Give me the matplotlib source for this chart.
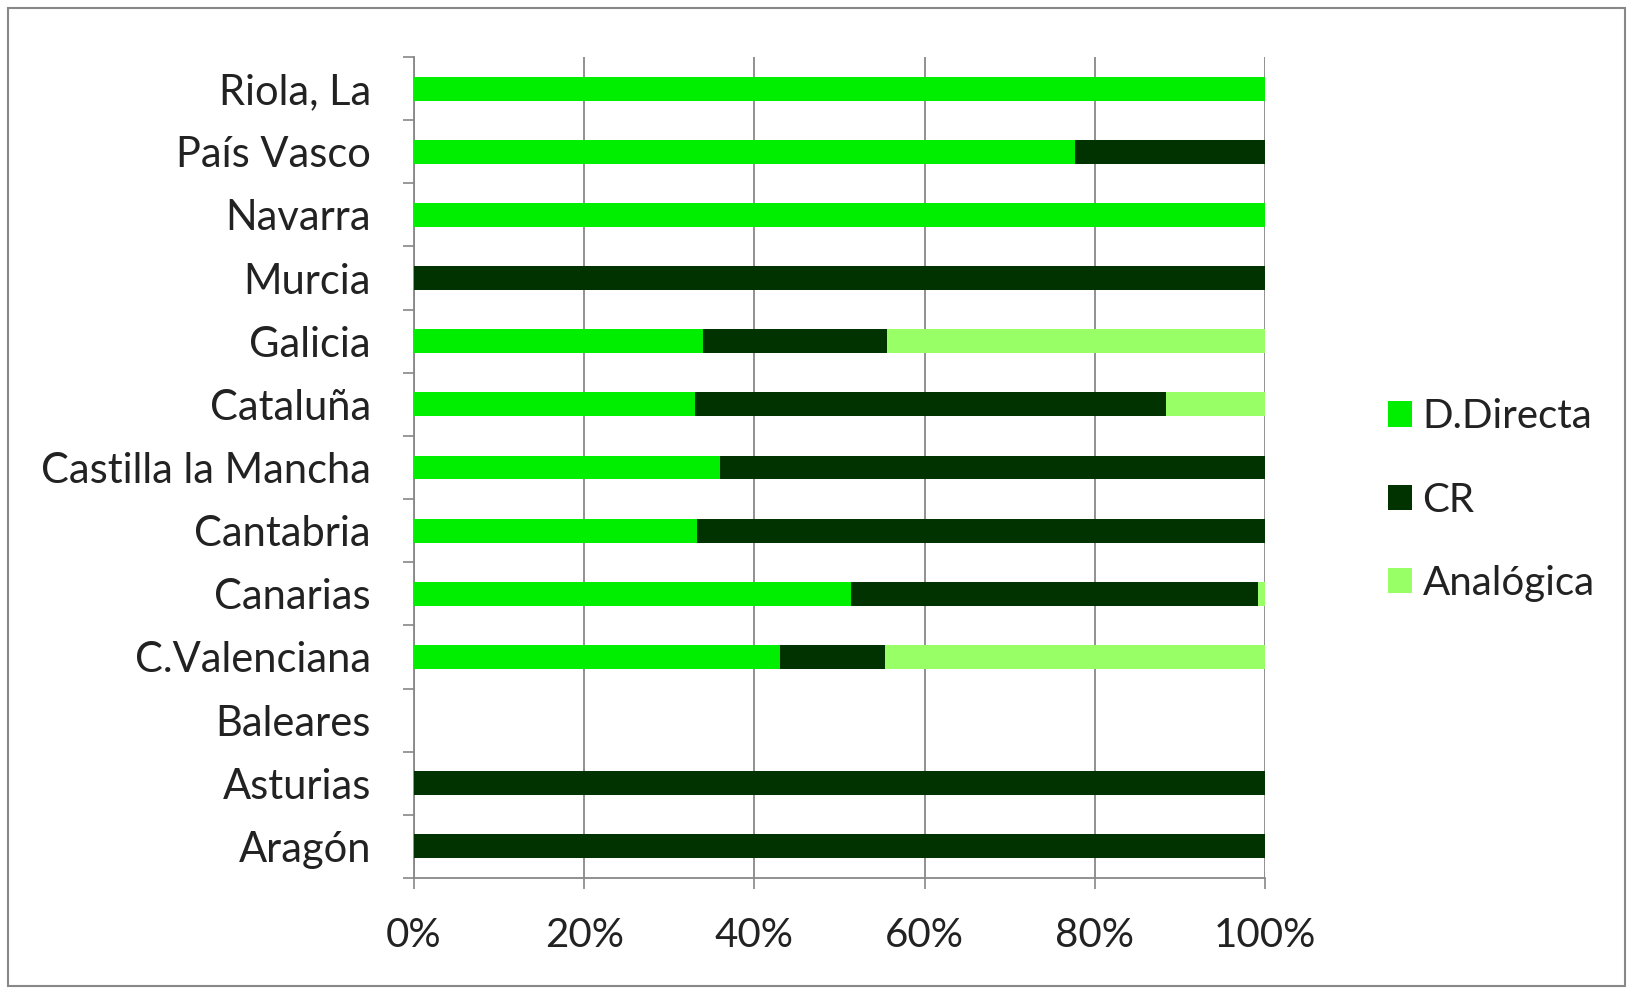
import matplotlib
matplotlib.use("Agg")
import matplotlib.pyplot as plt
from matplotlib.ticker import FixedLocator, PercentFormatter
import numpy as np

categories = ["Aragón", "Asturias", "Baleares", "C.Valenciana", "Canarias",
              "Cantabria", "Castilla la Mancha", "Cataluña", "Galicia",
              "Murcia", "Navarra", "País Vasco", "Riola, La"]
d_directa = [0, 0, 0, 43.0, 51.4, 33.3, 35.9, 33.0, 34.0, 0, 100, 77.7, 100]
cr        = [100, 100, 0, 12.3, 47.8, 66.7, 64.1, 55.4, 21.6, 100, 0, 22.3, 0]
analogica = [0, 0, 0, 44.7, 0.8, 0, 0, 11.6, 44.4, 0, 0, 0, 0]
series_names = ["D.Directa", "CR", "Analógica"]
xticks = [0, 20, 40, 60, 80, 100]

colors = ["#00EE00", "#003300", "#99FF66"]

plt.rcParams['font.family'] = ['Lato', 'DejaVu Sans']

fig = plt.figure(figsize=(16.33, 9.94), dpi=100)
W, H = 1633, 994
ax = fig.add_axes([414 / W, 1 - 878 / H, (1265 - 414) / W, (878 - 57) / H])

y = np.arange(len(categories))
left = np.zeros(len(categories))
handles = []
for vals, name, c in zip([d_directa, cr, analogica], series_names, colors):
    v = np.array(vals, dtype=float)
    h = ax.barh(y, v, left=left, height=0.38, color=c, label=name, zorder=3)
    handles.append(h)
    left += v

ax.set_xlim(0, 100)
ax.set_ylim(-0.5, len(categories) - 0.5)
ax.xaxis.set_major_locator(FixedLocator(xticks))
ax.xaxis.set_major_formatter(PercentFormatter(decimals=0))
ax.set_yticks(y)
ax.set_yticklabels(categories)
ax.set_yticks(np.arange(-0.5, len(categories), 1.0), minor=True)
ax.tick_params(axis='y', which='major', length=0, pad=31, labelsize=30, labelcolor="#222222")
ax.tick_params(axis='y', which='minor', length=8, width=1.2, color="#888888", direction='out')
ax.tick_params(axis='x', which='major', length=8, width=1.2, color="#888888",
               labelsize=29, labelcolor="#222222", pad=20)
ax.grid(axis='x', color="#888888", linewidth=1.3, zorder=0)
for s in ["top", "right"]:
    ax.spines[s].set_visible(False)
for s in ["left", "bottom"]:
    ax.spines[s].set_color("#888888")
    ax.spines[s].set_linewidth(1.3)

leg = fig.legend(handles=handles, labels=series_names, loc='center left',
                 bbox_to_anchor=(1352 / W, 1 - 500 / H), frameon=False,
                 fontsize=29, handlelength=0.6, handleheight=0.6,
                 handletextpad=0.25, labelspacing=1.15, labelcolor="#222222")

border = plt.Rectangle((8 / W, 8 / H), 1 - 16 / W, 1 - 16 / H, transform=fig.transFigure,
                       fill=False, edgecolor="#888888", linewidth=1.5)
fig.add_artist(border)

fig.savefig("out.png", dpi=100)
